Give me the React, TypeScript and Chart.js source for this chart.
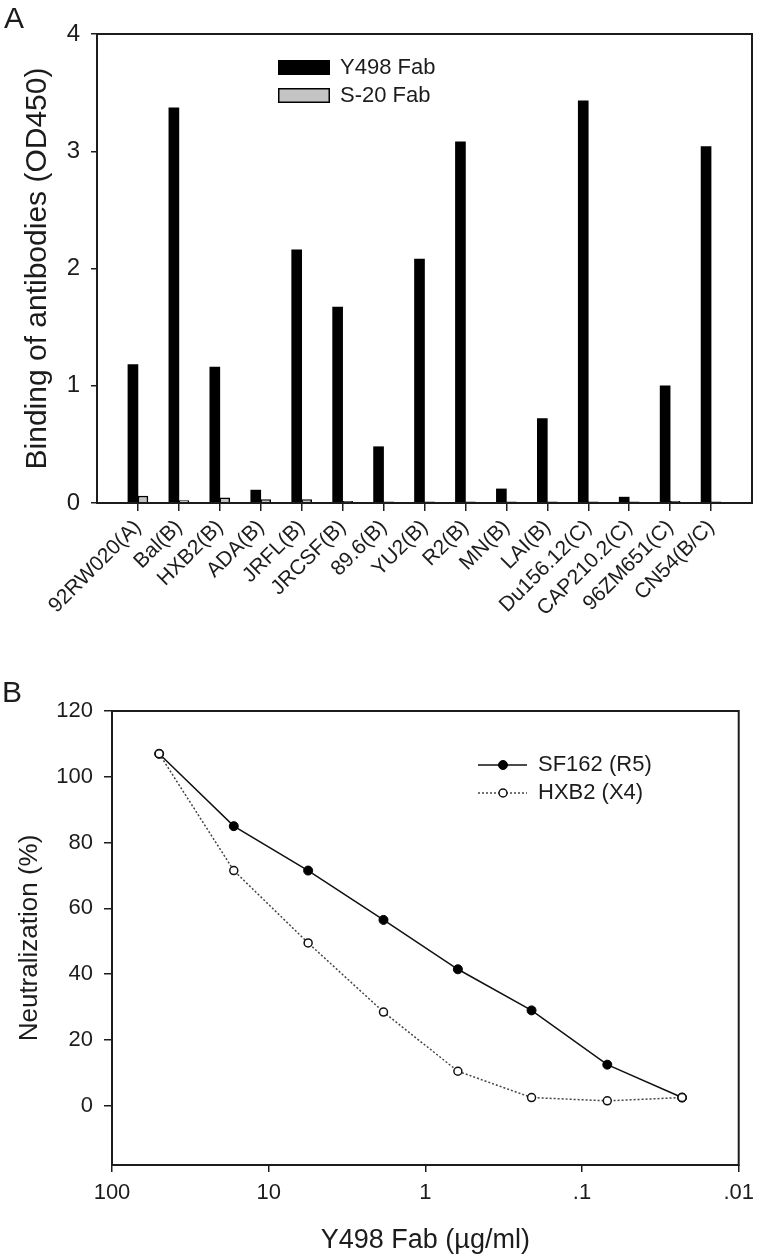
import React, { useEffect, useRef } from "react";
import { Chart, registerables } from "chart.js";

Chart.register(...registerables);

// ---------- Panel A data ----------
const strains = [
  "92RW020(A)", "Bal(B)", "HXB2(B)", "ADA(B)", "JRFL(B)", "JRCSF(B)", "89.6(B)",
  "YU2(B)", "R2(B)", "MN(B)", "LAI(B)", "Du156.12(C)", "CAP210.2(C)", "96ZM651(C)", "CN54(B/C)",
];
const y498Fab = [1.18, 3.37, 1.16, 0.11, 2.16, 1.67, 0.48, 2.08, 3.08, 0.12, 0.72, 3.43, 0.05, 1.0, 3.04];
const s20Fab = [0.06, 0.02, 0.045, 0.03, 0.03, 0.015, 0.01, 0.01, 0.01, 0.01, 0.01, 0.01, 0.01, 0.015, 0.01];
const yTicksA = [0, 1, 2, 3, 4];

// ---------- Panel B data ----------
const concentrations = [50, 16.7, 5.6, 1.85, 0.62, 0.21, 0.069, 0.023];
const sf162 = [107, 85, 71.5, 56.5, 41.5, 29, 12.5, 2.5];
const hxb2 = [107, 71.5, 49.5, 28.5, 10.5, 2.5, 1.5, 2.5];
const xTickValuesB = [100, 10, 1, 0.1, 0.01];
const xTickLabelsB = ["100", "10", "1", ".1", ".01"];
const yTicksB = [0, 20, 40, 60, 80, 100, 120];

const FONT = "'Liberation Sans', Arial, Helvetica, sans-serif";
const INK = "#1c1c1c";

const framePlugin = {
  id: "frame",
  afterDatasetsDraw(chart: any) {
    const { ctx, chartArea: a } = chart;
    ctx.save();
    ctx.strokeStyle = INK;
    ctx.lineWidth = 2;
    ctx.strokeRect(a.left, a.top, a.right - a.left, a.bottom - a.top);
    ctx.restore();
  },
};

function panelLabel(text: string, x: number, y: number) {
  return {
    id: "panelLabel" + text,
    afterDraw(chart: any) {
      const ctx = chart.ctx;
      ctx.save();
      ctx.font = `30px ${FONT}`;
      ctx.fillStyle = INK;
      ctx.textBaseline = "alphabetic";
      ctx.textAlign = "left";
      ctx.fillText(text, x, y);
      ctx.restore();
    },
  };
}

const legendA = {
  id: "legendA",
  afterDraw(chart: any) {
    const { ctx, chartArea: a } = chart;
    const x0 = a.left + 181;
    const y0 = a.top + 26;
    ctx.save();
    ctx.font = `22px ${FONT}`;
    ctx.textBaseline = "middle";
    ctx.textAlign = "left";
    chart.data.datasets.forEach((ds: any, i: number) => {
      const y = y0 + i * 28;
      ctx.fillStyle = ds.backgroundColor;
      ctx.fillRect(x0, y, 52, 15);
      ctx.strokeStyle = "#000";
      ctx.lineWidth = 1.5;
      ctx.strokeRect(x0 + 0.75, y + 0.75, 50.5, 13.5);
      ctx.fillStyle = INK;
      ctx.fillText(ds.label, x0 + 62, y + 8);
    });
    ctx.restore();
  },
};

const legendB = {
  id: "legendB",
  afterDraw(chart: any) {
    const { ctx, chartArea: a } = chart;
    const x0 = a.left + 366;
    const y0 = a.top + 54;
    ctx.save();
    ctx.font = `22px ${FONT}`;
    ctx.textBaseline = "middle";
    ctx.textAlign = "left";
    const items = [...chart.data.datasets].sort((p: any, q: any) => q.order - p.order);
    items.forEach((ds: any, i: number) => {
      const y = y0 + i * 28;
      ctx.strokeStyle = ds.borderColor;
      ctx.lineWidth = ds.borderWidth;
      ctx.setLineDash(ds.borderDash || []);
      ctx.beginPath();
      ctx.moveTo(x0, y);
      ctx.lineTo(x0 + 49, y);
      ctx.stroke();
      ctx.setLineDash([]);
      ctx.beginPath();
      ctx.arc(x0 + 25, y, ds.pointRadius, 0, Math.PI * 2);
      ctx.fillStyle = ds.pointBackgroundColor;
      ctx.fill();
      ctx.lineWidth = ds.pointBorderWidth;
      ctx.strokeStyle = ds.pointBorderColor;
      ctx.stroke();
      ctx.fillStyle = INK;
      ctx.fillText(ds.label, x0 + 60, y);
    });
    ctx.restore();
  },
};

function ChartA() {
  const ref = useRef<HTMLCanvasElement>(null);
  useEffect(() => {
    const chart = new Chart(ref.current as HTMLCanvasElement, {
      type: "bar",
      data: {
        datasets: [
          {
            label: "Y498 Fab",
            data: y498Fab.map((v, i) => ({ x: i, y: v })),
            backgroundColor: "#000000",
            borderColor: "#000000",
            borderWidth: 0,
            barThickness: 10,
          },
          {
            label: "S-20 Fab",
            data: s20Fab.map((v, i) => ({ x: i, y: v })),
            backgroundColor: "#c4c4c4",
            borderColor: "#000000",
            borderWidth: 1.5,
            barThickness: 10,
          },
        ],
      },
      options: {
        responsive: false,
        animation: false,
        layout: { padding: { top: 34, right: 10, left: 0, bottom: 0 } },
        plugins: { legend: { display: false }, tooltip: { enabled: false } },
        scales: {
          x: {
            type: "linear",
            min: -1,
            max: strains.length,
            offset: false,
            grid: { drawOnChartArea: false, drawTicks: true, tickLength: 8, color: INK, lineWidth: 1.5, offset: false },
            border: { display: false },
            afterBuildTicks: (scale: any) => {
              scale.ticks = strains.map((_, i) => ({ value: i }));
            },
            afterFit: (scale: any) => {
              scale.height = 137;
            },
            ticks: {
              autoSkip: false,
              minRotation: 45,
              maxRotation: 45,
              padding: 4,
              color: INK,
              font: { family: FONT, size: 21 },
              callback: (v: any) => strains[v] ?? "",
            },
          },
          y: {
            min: 0,
            max: 4,
            grid: { drawOnChartArea: false, drawTicks: true, tickLength: 6, color: INK, lineWidth: 1.5 },
            border: { display: false },
            afterBuildTicks: (scale: any) => {
              scale.ticks = yTicksA.map((v) => ({ value: v }));
            },
            afterFit: (scale: any) => {
              scale.width = 97;
            },
            ticks: { padding: 11, color: INK, font: { family: FONT, size: 24 } },
            title: {
              display: true,
              text: "Binding of antibodies (OD450)",
              color: INK,
              font: { family: FONT, size: 30 },
              padding: { top: 20, bottom: 0 },
            },
          },
        },
      },
      plugins: [framePlugin, legendA, panelLabel("A", 4, 28)],
    });
    return () => chart.destroy();
  }, []);
  return <canvas ref={ref} width={762} height={640} style={{ display: "block" }} />;
}

function ChartB() {
  const ref = useRef<HTMLCanvasElement>(null);
  useEffect(() => {
    const chart = new Chart(ref.current as HTMLCanvasElement, {
      type: "line",
      data: {
        datasets: [
          {
            label: "SF162 (R5)",
            order: 2,
            data: concentrations.map((c, i) => ({ x: c, y: sf162[i] })),
            borderColor: "#111111",
            borderWidth: 1.5,
            tension: 0,
            pointRadius: 4.5,
            pointBackgroundColor: "#000000",
            pointBorderColor: "#000000",
            pointBorderWidth: 1,
          },
          {
            label: "HXB2 (X4)",
            order: 1,
            data: concentrations.map((c, i) => ({ x: c, y: hxb2[i] })),
            borderColor: "#444444",
            borderWidth: 1.5,
            borderDash: [2, 2],
            tension: 0,
            pointRadius: 4,
            pointBackgroundColor: "#ffffff",
            pointBorderColor: "#111111",
            pointBorderWidth: 1.5,
          },
        ],
      },
      options: {
        responsive: false,
        animation: false,
        layout: { padding: { top: 71, right: 14, left: 0, bottom: 0 } },
        plugins: { legend: { display: false }, tooltip: { enabled: false } },
        scales: {
          x: {
            type: "logarithmic",
            reverse: true,
            min: 0.01,
            max: 100,
            grid: { drawOnChartArea: false, drawTicks: true, tickLength: 7, color: INK, lineWidth: 1.5 },
            border: { display: false },
            afterBuildTicks: (scale: any) => {
              scale.ticks = xTickValuesB.map((v) => ({ value: v }));
            },
            afterFit: (scale: any) => {
              scale.height = 92;
            },
            ticks: {
              autoSkip: false,
              maxRotation: 0,
              padding: 8,
              color: INK,
              font: { family: FONT, size: 22 },
              callback: (v: any) => {
                const idx = xTickValuesB.findIndex((t) => Math.abs(t - v) / t < 1e-6);
                return idx >= 0 ? xTickLabelsB[idx] : "";
              },
            },
            title: {
              display: true,
              text: "Y498 Fab (\u00b5g/ml)",
              color: INK,
              font: { family: FONT, size: 27 },
              padding: { top: 0, bottom: 0 },
            },
          },
          y: {
            min: -18,
            max: 120,
            grid: { drawOnChartArea: false, drawTicks: true, tickLength: 8, color: INK, lineWidth: 1.5 },
            border: { display: false },
            afterBuildTicks: (scale: any) => {
              scale.ticks = yTicksB.map((v) => ({ value: v }));
            },
            afterFit: (scale: any) => {
              scale.width = 112;
            },
            ticks: { padding: 11, color: INK, font: { family: FONT, size: 22 } },
            title: {
              display: true,
              text: "Neutralization (%)",
              color: INK,
              font: { family: FONT, size: 26 },
              padding: { top: 14, bottom: 0 },
            },
          },
        },
      },
      plugins: [framePlugin, legendB, panelLabel("B", 2, 62)],
    });
    return () => chart.destroy();
  }, []);
  return <canvas ref={ref} width={762} height={617} style={{ display: "block" }} />;
}

export default function App() {
  return (
    <div style={{ position: "absolute", left: 0, top: 0, width: 762, height: 1257, background: "#fff" }}>
      <div style={{ position: "absolute", left: 0, top: 0 }}>
        <ChartA />
      </div>
      <div style={{ position: "absolute", left: 0, top: 640 }}>
        <ChartB />
      </div>
    </div>
  );
}
